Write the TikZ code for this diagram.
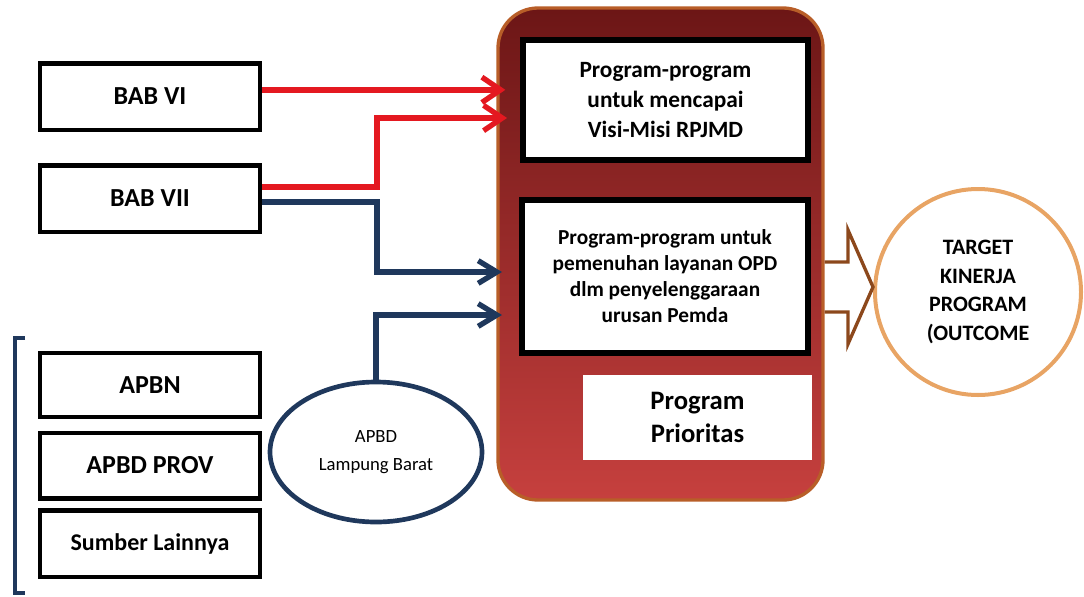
\documentclass[tikz,border=0pt]{standalone}
\usepackage{fontspec}
\setmainfont{Carlito}
\usepackage{xcolor}
\usetikzlibrary{arrows.meta,calc,shapes.geometric}

\definecolor{arrowred}{RGB}{228,24,32}
\definecolor{navy}{RGB}{31,56,92}
\definecolor{maroontop}{RGB}{108,22,22}
\definecolor{maroonmid}{RGB}{150,40,40}
\definecolor{maroonbot}{RGB}{198,64,62}
\definecolor{rimbrown}{RGB}{184,94,40}
\definecolor{ringorange}{RGB}{232,164,100}
\definecolor{outbrown}{RGB}{140,72,28}

\begin{document}
\begin{tikzpicture}[x=0.75pt,y=-0.75pt,
    babbox/.style={draw=black, line width=3.5pt, fill=white, minimum width=165pt,
        minimum height=50pt, inner sep=0pt, font=\fontsize{19.5}{22}\selectfont\bfseries},
    fundbox/.style={babbox, minimum height=48pt},
    progbox/.style={draw=black, line width=4pt, fill=white, align=center, inner sep=0pt},
    redline/.style={arrowred, line width=4pt, -{Straight Barb[length=14pt,width=19pt]}},
    blueline/.style={navy, line width=4pt, -{Straight Barb[length=14pt,width=17pt]}}]
    \useasboundingbox (0,0) rectangle (1084,596);

    % (a) BAB VI / BAB VII
    \node[babbox] (bab6) at (150,96.5) {BAB VI};
    \node[babbox] (bab7) at (150,198.5) {BAB VII};

    % (b) sumber dana
    \node[fundbox] (apbn) at (150,385) {APBN};
    \node[fundbox, minimum height=49pt] (prov) at (150,465.5) {APBD PROV};
    \node[babbox, font=\fontsize{18}{20}\selectfont\bfseries] (lain) at (150,543.5) {Sumber Lainnya};
    \draw[navy, line width=2.5pt] (25,338) -- (15,338) -- (15,593) -- (25,593);

    \node[ellipse, draw=navy, line width=3.5pt, minimum width=159pt, minimum height=105pt,
        align=center, font=\fontsize{14}{21}\selectfont] (apbd) at (376,452) {APBD\\Lampung Barat};

    % (c) kotak program
    \node[draw=rimbrown, line width=2.5pt, rounded corners=30pt, top color=maroontop,
        middle color=maroonmid, bottom color=maroonbot, minimum width=243.75pt,
        minimum height=369pt] (main) at (660.5,254) {};
    \node[progbox, minimum width=213.75pt, minimum height=90pt,
        font=\fontsize{17.5}{22.5}\selectfont\bfseries] (visi) at (665.5,100)
        {Program-program\\untuk mencapai\\Visi-Misi RPJMD};
    \node[progbox, minimum width=214.5pt, minimum height=114.75pt,
        font=\fontsize{16}{19.5}\selectfont\bfseries] (opd) at (665,276.5)
        {Program-program untuk\\pemenuhan layanan OPD\\dlm penyelenggaraan\\urusan Pemda};
    \node[fill=white, align=center, minimum width=171.75pt, minimum height=63.75pt,
        font=\fontsize{20}{25}\selectfont\bfseries] (prior) at (697.5,417.5) {Program\\Prioritas};

    % (d) target
    \node[circle, draw=ringorange, line width=3pt, minimum size=154.5pt, align=center,
        font=\fontsize{16.5}{21.5}\selectfont\bfseries] (target) at (978,292)
        {TARGET\\KINERJA\\PROGRAM\\(OUTCOME};

    % arrows
    \coordinate (elbow) at (377,0);
    \coordinate (rin) at (507,118);
    \coordinate (bin1) at (502,272);
    \coordinate (bin2) at (502,315);
    \draw[redline] ([yshift=5pt]bab6.east) -- ([yshift=5pt,xshift=6.75pt]bab6.east -| main.west);
    \draw[redline] ([yshift=8.6pt]bab7.east) -| (elbow |- rin) -- (rin);
    \draw[blueline] ([yshift=-2.6pt]bab7.east) -| (elbow |- bin1) -- (bin1);
    \draw[blueline] (apbd.north) |- (bin2);

    % outline arrow to target
    \draw[outbrown, line width=2.5pt, line join=miter] (main.east |- 0,262) -- (848,262) -- (848,230)
        -- (target.west |- 0,287) -- (848,344) -- (848,312) -- (main.east |- 0,312);
\end{tikzpicture}
\end{document}
